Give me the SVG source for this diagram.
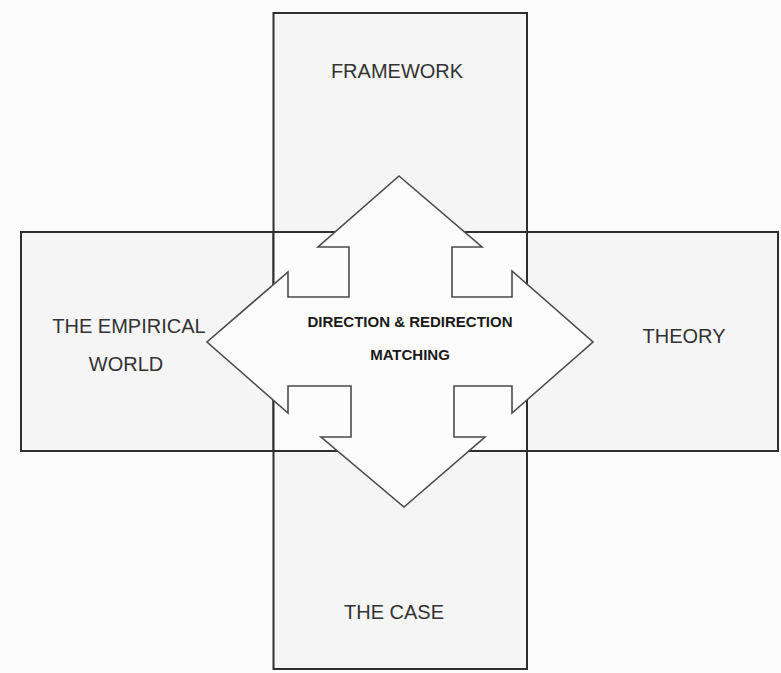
<svg xmlns="http://www.w3.org/2000/svg" width="781" height="673" viewBox="0 0 781 673">
  <style>
    .box { fill: #f5f5f5; stroke: #2e2e2e; stroke-width: 2; }
    .center { fill: #fcfcfc; stroke: #2e2e2e; stroke-width: 2; }
    .arrow { fill: #fcfcfc; stroke: #4a4a4a; stroke-width: 1.6; stroke-linejoin: miter; }
    .lbl { font-family: "Liberation Sans", Arial, sans-serif; font-size: 20px; fill: #333; text-anchor: middle; }
    .blbl { font-family: "Liberation Sans", Arial, sans-serif; font-size: 15px; font-weight: bold; fill: #1a1a1a; text-anchor: middle; }
  </style>
  <rect x="0" y="0" width="781" height="673" fill="#fcfcfc"/>
  <g id="framework">
    <rect class="box" x="273.5" y="13" width="253.5" height="219"/>
    <text class="lbl" x="397" y="78">FRAMEWORK</text>
  </g>
  <g id="empirical-world">
    <rect class="box" x="21" y="232" width="252.5" height="219"/>
    <text class="lbl" x="129" y="333">THE EMPIRICAL</text>
    <text class="lbl" x="126" y="371">WORLD</text>
  </g>
  <g id="theory">
    <rect class="box" x="527" y="232" width="251" height="219"/>
    <text class="lbl" x="684" y="343">THEORY</text>
  </g>
  <g id="the-case">
    <rect class="box" x="273.5" y="451" width="253.5" height="218"/>
    <text class="lbl" x="394" y="619">THE CASE</text>
  </g>
  <g id="center">
    <rect class="center" x="273.5" y="232" width="253.5" height="219"/>
  </g>
  <g id="connectors">
    <path class="arrow" d="M399,176 L482,247 L452,247 L452,297 L512,297 L512,271 L593,342 L512,413 L512,386 L454,386 L454,437 L485,437 L404,507 L321,437 L351,437 L351,386 L288,386 L288,413 L207,342 L288,272 L288,297 L349,297 L349,247 L318,247 Z"/>
  </g>
  <g id="matching">
    <text class="blbl" x="410" y="327">DIRECTION &amp; REDIRECTION</text>
    <text class="blbl" x="410" y="360">MATCHING</text>
  </g>
</svg>
